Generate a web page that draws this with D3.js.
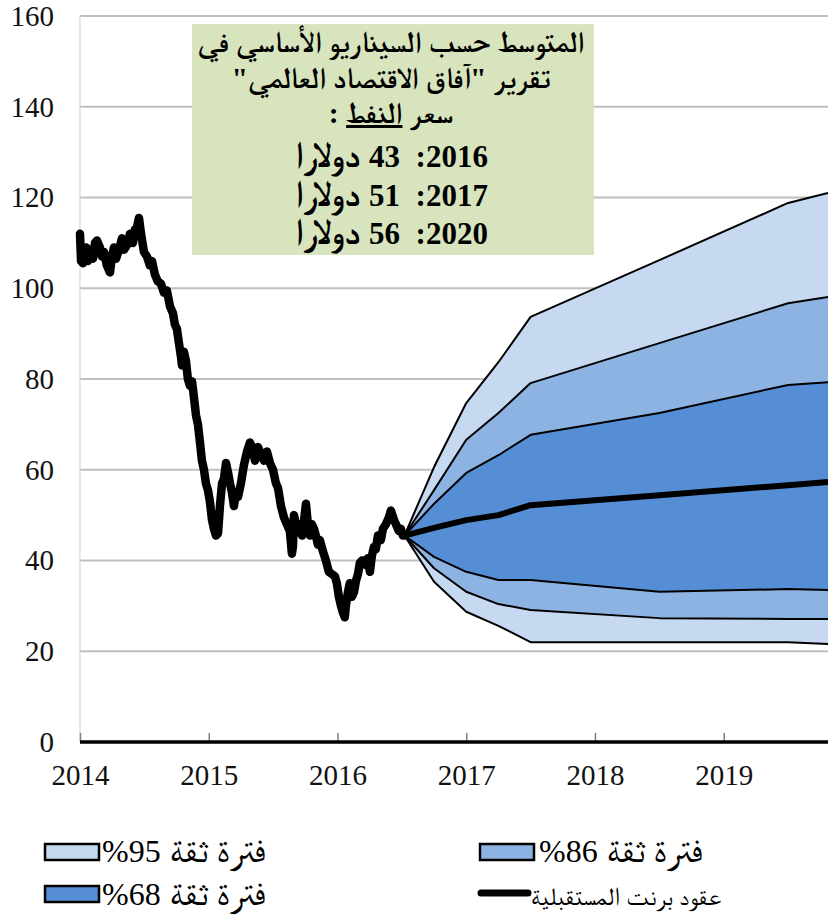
<!DOCTYPE html>
<html>

<head>
    <meta charset="utf-8">
    <style>
        body {
            margin: 0;
            background: #fff;
        }

        svg {
            display: block;
        }

        .grid line {
            stroke: #bfbfbf;
            stroke-width: 2;
        }

        .x .tick line {
            stroke: #808080;
            stroke-width: 1.5;
        }

        .x .domain {
            display: none;
        }
    </style>
</head>

<body>
    <svg width="828" height="917"></svg>
</body>

<script src="https://d3js.org/d3.v7.min.js"></script>

<script>
    let width = 828;
    let height = 917;
    let serif = '"Liberation Serif", "FreeSerif", serif';

    // Brent spot price (decimal year, $/bbl)
    let histYears = [
        2014.000, 2014.008, 2014.023, 2014.047, 2014.062, 2014.078, 2014.101, 2014.117, 2014.132, 2014.155,
        2014.170, 2014.186, 2014.209, 2014.233, 2014.248, 2014.264, 2014.280, 2014.303, 2014.326, 2014.342,
        2014.365, 2014.388, 2014.411, 2014.427, 2014.443, 2014.458, 2014.474, 2014.497, 2014.520, 2014.543,
        2014.559, 2014.582, 2014.605, 2014.629, 2014.652, 2014.675, 2014.699, 2014.722, 2014.737, 2014.753,
        2014.768, 2014.784, 2014.792, 2014.807, 2014.823, 2014.838, 2014.854, 2014.870, 2014.885, 2014.901,
        2014.916, 2014.932, 2014.947, 2014.963, 2014.978, 2014.994, 2015.009, 2015.025, 2015.040, 2015.056,
        2015.072, 2015.087, 2015.103, 2015.118, 2015.134, 2015.149, 2015.165, 2015.180, 2015.196, 2015.211,
        2015.227, 2015.250, 2015.273, 2015.297, 2015.320, 2015.336, 2015.359, 2015.382, 2015.405, 2015.429,
        2015.452, 2015.475, 2015.499, 2015.522, 2015.538, 2015.561, 2015.584, 2015.607, 2015.630, 2015.646,
        2015.654, 2015.662, 2015.677, 2015.693, 2015.708, 2015.724, 2015.739, 2015.755, 2015.770, 2015.786,
        2015.801, 2015.817, 2015.832, 2015.848, 2015.863, 2015.887, 2015.910, 2015.933, 2015.957, 2015.980,
        2015.995, 2016.011, 2016.027, 2016.042, 2016.057, 2016.065, 2016.081, 2016.096, 2016.112, 2016.128,
        2016.143, 2016.159, 2016.174, 2016.190, 2016.205, 2016.221, 2016.236, 2016.252, 2016.267, 2016.283,
        2016.298, 2016.314, 2016.337, 2016.353, 2016.376, 2016.399, 2016.415, 2016.438, 2016.454, 2016.477,
        2016.492, 2016.508, 2016.520
    ];
    let histPrice = [
        112, 106, 105.5, 109, 106, 108.5, 106.5, 110, 110.5, 109,
        107, 108, 105, 103.5, 107, 109, 106.5, 108.5, 111, 108.5,
        109.5, 112, 110, 113, 113.5, 115.5, 112, 108, 107, 105,
        106, 103, 101.5, 101, 99, 99.5, 96, 94.5, 92, 91,
        88, 85, 83, 86, 84, 80, 78.5, 79.5, 76, 72,
        70, 66, 62, 60, 57, 55.5, 53, 49, 47, 45.5,
        46, 52, 57, 58, 61.5, 59.5, 57, 55, 52, 55,
        54, 57, 61, 64, 66, 65, 62, 65, 63.5, 62,
        64, 61.5, 60, 57, 56, 52, 49.5, 48, 46.5, 41.5,
        43, 50, 48, 46.5, 48, 45.5, 48.5, 52.5, 48, 45.5,
        48, 47, 45.5, 43.5, 44.5, 42, 40, 37.5, 37, 36.5,
        35, 32, 30, 28.5, 27.5, 30, 33, 35, 32, 33,
        35.5, 37, 39.5, 40, 40, 39, 40.5, 37.5, 41, 43,
        42.5, 45.5, 44.5, 47, 48, 49.5, 51, 49, 48, 46.5,
        47, 45.5, 45.5
    ];

    // fan chart: futures median and confidence bands
    let fanYears = [2016.52, 2016.75, 2017.0, 2017.25, 2017.5, 2018.5, 2019.5, 2019.81];
    let upper95 = [45.5, 60.6, 74.7, 83.7, 93.7, 106.2, 118.8, 121.0];
    let upper86 = [45.5, 55.5, 66.6, 72.5, 79.1, 87.9, 96.7, 98.1];
    let upper68 = [45.5, 52.5, 59.3, 63.2, 67.7, 72.5, 78.7, 79.3];
    let median = [45.5, 47.2, 48.9, 50.0, 52.2, 54.4, 56.6, 57.3];
    let lower68 = [45.5, 40.8, 37.5, 35.7, 35.7, 33.1, 33.7, 33.5];
    let lower86 = [45.5, 38.3, 33.1, 30.4, 29.1, 27.3, 27.1, 27.1];
    let lower95 = [45.5, 35.3, 28.7, 25.6, 22.0, 22.0, 22.0, 21.6];

    let yTicks = [0, 20, 40, 60, 80, 100, 120, 140, 160];
    let xTicks = [2014, 2015, 2016, 2017, 2018, 2019];

    let boxLines = [
        "المتوسط حسب السيناريو الأساسي في",
        "تقرير \"آفاق الاقتصاد العالمي\""
    ];
    let boxYears = ["2016", "2017", "2020"];
    let boxPrices = ["43", "51", "56"];
    let dollarWord = "دولارا";

    let bandColors = {
        b95: "#c6d9f1",
        b86: "#8db3e2",
        b68: "#558ed5"
    };

    let margin = { top: 16, right: 0, bottom: 175, left: 80 };

    let svg = d3.select("svg");

    // shrink / grow a text so it spans the wanted width
    function fitText(sel, target) {
        let size = parseFloat(sel.style("font-size"));
        let w = sel.node().getComputedTextLength();
        sel.style("font-size", (size * target / w).toFixed(2) + "px");
        return sel;
    }

    let x = d3.scaleLinear()
        .domain([2014, 2019.81])
        .range([margin.left, width - margin.right]);

    let y = d3.scaleLinear()
        .domain([0, 160])
        .range([742, margin.top]);

    // gridlines
    svg.append("g")
        .attr("class", "grid")
        .selectAll("line")
        .data(yTicks.filter(d => d > 0))
        .join("line")
        .attr("x1", margin.left)
        .attr("x2", width)
        .attr("y1", d => y(d))
        .attr("y2", d => y(d));

    // faint vertical axis line
    svg.append("line")
        .attr("x1", margin.left)
        .attr("x2", margin.left)
        .attr("y1", y(160))
        .attr("y2", y(0))
        .style("stroke", "#bdd7ee")
        .style("stroke-width", 1);

    svg.append("g")
        .selectAll("text")
        .data(yTicks)
        .join("text")
        .attr("x", 54)
        .attr("y", d => y(d))
        .attr("dy", "0.34em")
        .attr("text-anchor", "end")
        .style("font-family", serif)
        .style("font-size", "29px")
        .style("fill", "#111")
        .text(d => d);

    // fan bands
    let fan = fanYears.map((t, i) => ({
        t: t,
        u95: upper95[i], u86: upper86[i], u68: upper68[i],
        med: median[i],
        l68: lower68[i], l86: lower86[i], l95: lower95[i]
    }));

    let bands = [
        { lo: "l95", hi: "u95", color: bandColors.b95 },
        { lo: "l86", hi: "u86", color: bandColors.b86 },
        { lo: "l68", hi: "u68", color: bandColors.b68 }
    ];

    bands.forEach(b => {
        let area = d3.area()
            .x(d => x(d.t))
            .y0(d => y(d[b.lo]))
            .y1(d => y(d[b.hi]));
        svg.append("path")
            .datum(fan)
            .attr("fill", b.color)
            .attr("d", area);
    });

    let bounds = ["u95", "u86", "u68", "l68", "l86", "l95"];
    bounds.forEach(k => {
        let line = d3.line()
            .x(d => x(d.t))
            .y(d => y(d[k]));
        svg.append("path")
            .datum(fan)
            .attr("fill", "none")
            .attr("stroke", "#000")
            .attr("stroke-width", 2)
            .attr("stroke-linejoin", "round")
            .attr("d", line);
    });

    svg.append("path")
        .datum(fan)
        .attr("fill", "none")
        .attr("stroke", "#000")
        .attr("stroke-width", 6)
        .attr("stroke-linejoin", "round")
        .attr("d", d3.line().x(d => x(d.t)).y(d => y(d.med)));

    // historical price
    let hist = histYears.map((t, i) => ({ t: t, v: histPrice[i] }));

    svg.append("path")
        .datum(hist)
        .attr("fill", "none")
        .attr("stroke", "#000")
        .attr("stroke-width", 8.5)
        .attr("stroke-linejoin", "round")
        .attr("stroke-linecap", "round")
        .attr("d", d3.line().x(d => x(d.t)).y(d => y(d.v)));

    // x axis
    let xAxisSettings = d3.axisBottom(x)
        .tickValues(xTicks)
        .tickSize(-9)
        .tickPadding(22)
        .tickFormat(d3.format("d"));

    svg.append("g")
        .attr("class", "x axis")
        .attr("transform", `translate(0,${y(0)})`)
        .call(xAxisSettings)
        .call(g => g.selectAll(".tick text")
            .style("font-family", serif)
            .style("font-size", "29px")
            .style("fill", "#111"));

    svg.append("line")
        .attr("x1", margin.left)
        .attr("x2", width)
        .attr("y1", y(0))
        .attr("y2", y(0))
        .style("stroke", "#000")
        .style("stroke-width", 3.5);

    // annotation box
    svg.append("rect")
        .attr("x", 192)
        .attr("y", 24)
        .attr("width", 402)
        .attr("height", 231)
        .attr("fill", "#d7e4bd");

    let boxCx = 391;

    let l1 = svg.append("text")
        .attr("x", boxCx)
        .attr("y", 52)
        .attr("direction", "rtl")
        .attr("text-anchor", "middle")
        .style("font-family", serif)
        .style("font-weight", "bold")
        .style("font-size", "26px")
        .text(boxLines[0]);
    fitText(l1, 387);
    let boxFont = l1.style("font-size");

    svg.append("text")
        .attr("x", boxCx)
        .attr("y", 88)
        .attr("direction", "rtl")
        .attr("text-anchor", "middle")
        .style("font-family", serif)
        .style("font-weight", "bold")
        .style("font-size", boxFont)
        .text(boxLines[1]);

    let line3 = svg.append("text")
        .attr("x", boxCx)
        .attr("y", 123)
        .attr("direction", "rtl")
        .attr("text-anchor", "middle")
        .style("font-family", serif)
        .style("font-weight", "bold")
        .style("font-size", boxFont);
    line3.append("tspan").text("سعر ");
    line3.append("tspan").style("text-decoration", "underline").text("النفط");
    line3.append("tspan").text(" :");

    // year lines: arabic word on the left, "43  :2016" on the right
    let yearBaselines = [167, 206, 244];
    boxYears.forEach((yr, i) => {
        let word = svg.append("text")
            .attr("y", yearBaselines[i])
            .style("font-family", serif)
            .style("font-weight", "bold")
            .style("font-size", "26px")
            .text(dollarWord);
        fitText(word, 66);
        let nums = svg.append("text")
            .attr("y", yearBaselines[i])
            .style("font-family", serif)
            .style("font-weight", "bold")
            .style("font-size", "31px")
            .style("white-space", "pre")
            .text(boxPrices[i] + "  :" + yr);
        let gap = 9;
        let w1 = word.node().getComputedTextLength();
        let w2 = nums.node().getComputedTextLength();
        let left = boxCx - (w1 + gap + w2) / 2;
        word.attr("x", left);
        nums.attr("x", left + w1 + gap);
    });

    // legend
    let legendItems = [
        { label: "فترة ثقة", pct: "%95", color: bandColors.b95, sx: 45, row: 0, gap: 3 },
        { label: "فترة ثقة", pct: "%68", color: bandColors.b68, sx: 45, row: 1, gap: 3 },
        { label: "فترة ثقة", pct: "%86", color: bandColors.b86, sx: 480, row: 0, gap: 5 }
    ];
    let rowY = [844, 886];
    let rowBase = [862, 905];

    legendItems.forEach(d => {
        svg.append("rect")
            .attr("x", d.sx)
            .attr("y", rowY[d.row])
            .attr("width", 54)
            .attr("height", 16)
            .attr("fill", d.color)
            .attr("stroke", "#000")
            .attr("stroke-width", 2.5);

        let pct = svg.append("text")
            .attr("x", d.sx + 54 + d.gap)
            .attr("y", rowBase[d.row])
            .style("font-family", serif)
            .style("font-size", "32px")
            .text(d.pct);
        let pw = pct.node().getComputedTextLength();

        let lab = svg.append("text")
            .attr("x", d.sx + 54 + d.gap + pw + 9)
            .attr("y", rowBase[d.row])
            .style("font-family", serif)
            .style("font-size", "30px")
            .text(d.label);
        fitText(lab, 96);
    });

    svg.append("line")
        .attr("x1", 481)
        .attr("x2", 528)
        .attr("y1", 893)
        .attr("y2", 893)
        .style("stroke", "#000")
        .style("stroke-width", 7)
        .style("stroke-linecap", "round");

    let futLab = svg.append("text")
        .attr("x", 531)
        .attr("y", 905)
        .style("font-family", serif)
        .style("font-size", "30px")
        .text("عقود برنت المستقبلية");
    fitText(futLab, 190);
</script>

</html>
